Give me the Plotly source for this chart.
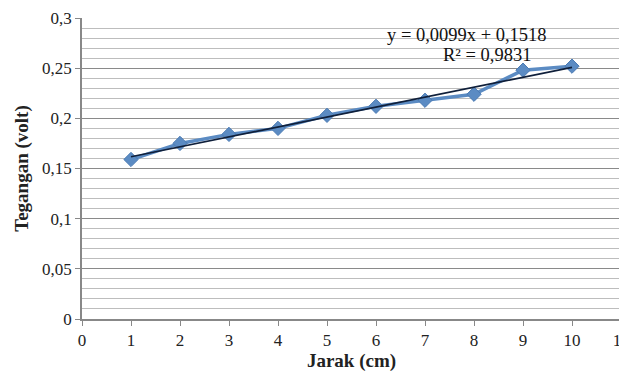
import plotly.graph_objects as go

jarak = [1, 2, 3, 4, 5, 6, 7, 8, 9, 10]
tegangan = [0.159, 0.175, 0.184, 0.190, 0.203, 0.212, 0.218, 0.224, 0.248, 0.252]
slope = 0.0099
intercept = 0.1518
r2_text = "R² = 0,9831"
eq_text = "y = 0,0099x + 0,1518"
y_ticks = [0, 0.05, 0.1, 0.15, 0.2, 0.25, 0.3]
y_ticklabels = ["0", "0,05", "0,1", "0,15", "0,2", "0,25", "0,3"]
x_ticks = list(range(0, 12))

trend_x = [jarak[0], jarak[-1]]
trend_y = [slope * v + intercept for v in trend_x]

font = "Liberation Serif"

fig = go.Figure()
fig.add_trace(go.Scatter(
    x=jarak, y=tegangan, mode="lines+markers",
    line=dict(color="#5B8BC3", width=3.5),
    marker=dict(symbol="diamond", size=11, color="#5B8BC3",
                line=dict(color="#4A7AB3", width=1)),
    showlegend=False, cliponaxis=False))
fig.add_trace(go.Scatter(
    x=trend_x, y=trend_y, mode="lines",
    line=dict(color="#0F1F3A", width=1.6), showlegend=False))

fig.add_annotation(x=7.86, y=0.283, xref="x", yref="y", text=eq_text,
                   showarrow=False, font=dict(family=font, size=18.5, color="#111"))
fig.add_annotation(x=8.27, y=0.263, xref="x", yref="y", text=r2_text,
                   showarrow=False, font=dict(family=font, size=18.5, color="#111"))

fig.update_layout(
    width=627, height=376,
    margin=dict(l=74, r=14, t=10, b=65),
    paper_bgcolor="white", plot_bgcolor="white",
    font=dict(family=font, size=17, color="#222"),
    xaxis=dict(range=[0, 11], tickvals=x_ticks, showgrid=False,
               showline=True, linecolor="#888", linewidth=1.5,
               ticks="outside", ticklen=5, tickcolor="#888",
               zeroline=False, automargin=False,
               title=dict(text="<b>Jarak (cm)</b>", font=dict(size=19, family=font), standoff=5),
               tickfont=dict(size=17, family=font)),
    yaxis=dict(range=[0, 0.3], tickvals=y_ticks, ticktext=y_ticklabels,
               showgrid=True, gridcolor="#8a8a8a", gridwidth=1,
               showline=True, linecolor="#888", linewidth=1.5,
               ticks="outside", ticklen=5, tickcolor="#888",
               zeroline=False, automargin=False,
               minor=dict(dtick=0.01, showgrid=True, gridcolor="#bdbdbd", gridwidth=1),
               title=dict(text="<b>Tegangan (volt)</b>", font=dict(size=19, family=font), standoff=8),
               tickfont=dict(size=17, family=font)),
)

fig.write_html("out.html")
